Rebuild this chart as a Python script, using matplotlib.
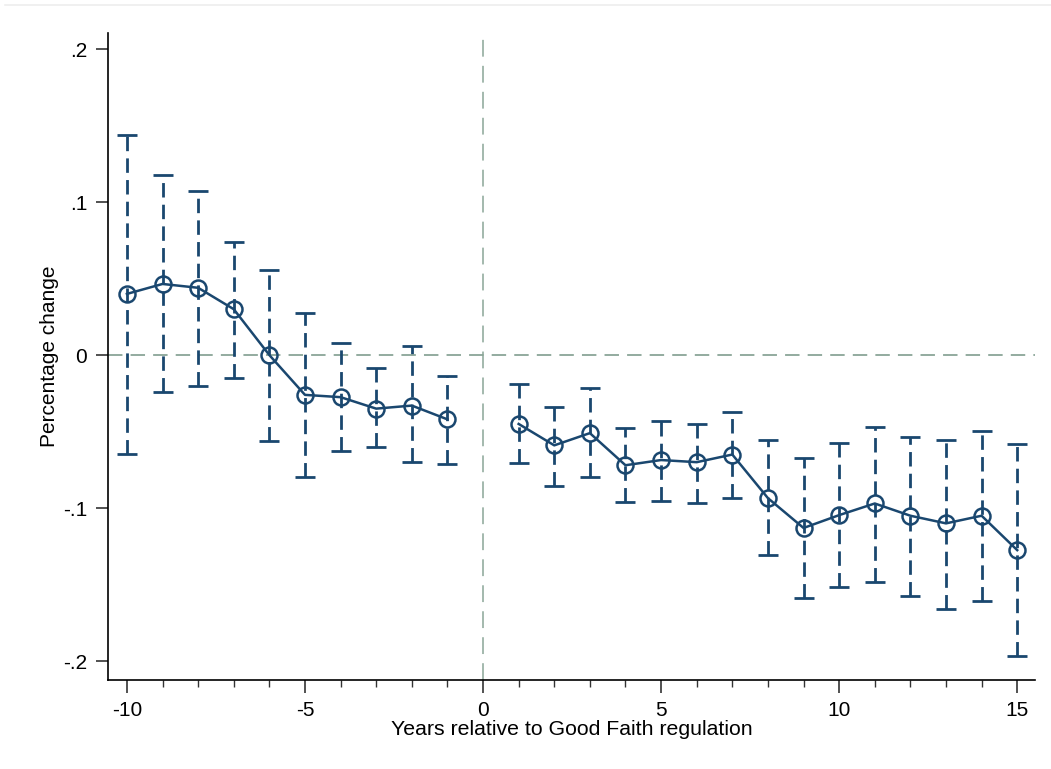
import numpy as np
import matplotlib.pyplot as plt
from matplotlib.lines import Line2D

plt.rcParams['axes.unicode_minus'] = False

# event-time coefficients, pre and post periods
years_pre = [-10, -9, -8, -7, -6, -5, -4, -3, -2, -1]
coef_pre = [0.040, 0.0465, 0.044, 0.030, 0.000, -0.026, -0.0275, -0.035, -0.033, -0.042]
lo_pre = [-0.0645, -0.024, -0.020, -0.015, -0.056, -0.080, -0.063, -0.060, -0.070, -0.071]
hi_pre = [0.144, 0.1176, 0.1075, 0.074, 0.0556, 0.0275, 0.008, -0.0085, 0.006, -0.0135]

years_post = [1, 2, 3, 4, 5, 6, 7, 8, 9, 10, 11, 12, 13, 14, 15]
coef_post = [-0.045, -0.059, -0.051, -0.072, -0.0686, -0.070, -0.065, -0.0935,
             -0.113, -0.1046, -0.097, -0.105, -0.110, -0.105, -0.1275]
lo_post = [-0.0706, -0.0856, -0.0797, -0.096, -0.0954, -0.0967, -0.0935, -0.131,
           -0.159, -0.1516, -0.148, -0.1575, -0.166, -0.161, -0.197]
hi_post = [-0.019, -0.034, -0.0216, -0.0477, -0.043, -0.045, -0.037, -0.0556,
           -0.0673, -0.0575, -0.047, -0.0536, -0.0556, -0.0497, -0.058]

navy = '#1a476f'
refc = '#8aa597'

fig = plt.figure(figsize=(10.51, 7.69), dpi=100)
ax = fig.add_axes([0.1028, 0.1157, 0.882, 0.8413])

# reference lines
ax.axhline(0, color=refc, lw=1.3, linestyle=(0, (8, 4.5)), zorder=1)
ax.axvline(0, color=refc, lw=1.1, linestyle=(0, (11, 6)), zorder=1)

for yrs, c, lo, hi in [(years_pre, coef_pre, lo_pre, hi_pre),
                       (years_post, coef_post, lo_post, hi_post)]:
    yrs = np.array(yrs)
    c = np.array(c)
    err = [c - np.array(lo), np.array(hi) - c]
    eb = ax.errorbar(yrs, c, yerr=err, fmt='none', ecolor=navy, elinewidth=2,
                     capsize=7, capthick=2, zorder=2)
    eb[2][0].set_linestyle((0, (5.2, 2.6)))
    ax.plot(yrs, c, color=navy, lw=1.8, marker='o', ms=11.5, mfc='none',
            mec=navy, mew=1.8, zorder=3)

ax.set_xlim(-10.53, 15.5)
ax.set_ylim(-0.2124, 0.2105)
ax.set_yticks([-0.2, -0.1, 0, 0.1, 0.2])
ax.set_yticklabels(['-.2', '-.1', '0', '.1', '.2'])
ax.set_xticks([-10, -5, 0, 5, 10, 15])
ax.set_xticks(range(-10, 16), minor=True)

for s in ['top', 'right']:
    ax.spines[s].set_visible(False)
ax.spines['left'].set_linewidth(1.2)
ax.spines['bottom'].set_linewidth(1.2)

fam = ['Liberation Sans', 'DejaVu Sans']
ax.tick_params(axis='both', which='major', length=9, width=1.2, color='#333333', pad=6)
ax.tick_params(axis='x', which='minor', length=5, width=1.0, color='#333333')
for lab in ax.get_xticklabels() + ax.get_yticklabels():
    lab.set_family(fam)
    lab.set_fontsize(15)

ax.set_xlabel('Years relative to Good Faith regulation', fontsize=15.3,
              family=fam, labelpad=0)
ax.set_ylabel('Percentage change', fontsize=15, family=fam, labelpad=3)

fig.add_artist(Line2D([0.005, 1.0], [1 - 5 / 769, 1 - 5 / 769], color='#eeeeee', lw=1.2))

fig.savefig('out.png', dpi=100)
